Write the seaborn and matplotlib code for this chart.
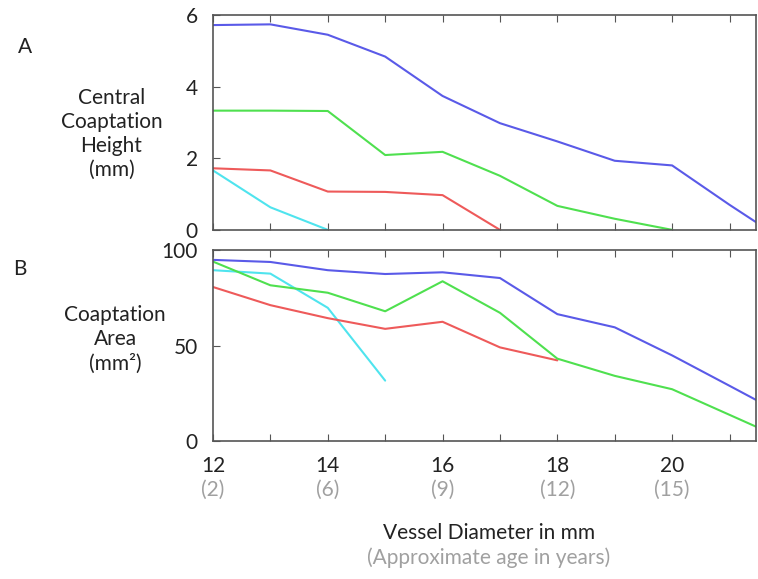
import pandas as pd
import numpy as np
import matplotlib
matplotlib.use('Agg')
import matplotlib.pyplot as plt
import matplotlib.transforms as mtransforms
import seaborn as sns

sns.set_style('white')
plt.rcParams['font.family'] = ['Lato', 'DejaVu Sans']

# vessel diameter (mm) and approximate age
diam = [12, 13, 14, 15, 16, 17, 18, 19, 20, 21, 22]
age_ticks = [12, 14, 16, 18, 20]
age_labels = ['(2)', '(6)', '(9)', '(12)', '(15)']

# panel A: central coaptation height (mm)
height_blue = [5.72, 5.74, 5.45, 4.84, 3.74, 2.98, 2.47, 1.93, 1.80, 0.70, -0.35]
height_green = [3.33, 3.33, 3.32, 2.09, 2.18, 1.51, 0.67, 0.31, 0.0]
height_red = [1.72, 1.66, 1.07, 1.06, 0.97, 0.0]
height_cyan = [1.66, 0.63, 0.0]

# panel B: coaptation area (mm2)
area_blue = [94.9, 93.8, 89.5, 87.5, 88.4, 85.4, 66.5, 59.6, 44.9, 29.0, 13.0]
area_green = [94.0, 81.6, 77.7, 68.0, 83.7, 67.2, 43.2, 34.2, 27.2, 13.8, 0.4]
area_red = [80.7, 71.2, 64.4, 58.8, 62.5, 49.1, 42.3]
area_cyan = [89.5, 87.7, 69.8, 31.7]

colors = {'blue': '#5a5ae8', 'green': '#4fe04f', 'red': '#ee5a5a', 'cyan': '#4fe4ee'}


def long_df(series):
    rows = []
    for name, vals in series.items():
        for x, v in zip(diam, vals):
            rows.append({'diam': x, 'val': v, 'series': name})
    return pd.DataFrame(rows)


dfA = long_df({'cyan': height_cyan, 'red': height_red, 'green': height_green, 'blue': height_blue})
dfB = long_df({'cyan': area_cyan, 'red': area_red, 'green': area_green, 'blue': area_blue})

fig = plt.figure(figsize=(7.58, 5.79), dpi=100)
axA = fig.add_axes([0.281, 0.603, 0.717, 0.371])
axB = fig.add_axes([0.281, 0.238, 0.717, 0.330])

for ax, df in [(axA, dfA), (axB, dfB)]:
    sns.lineplot(data=df, x='diam', y='val', hue='series', palette=colors,
                 linewidth=1.5, legend=False, ax=ax)
    ax.set_xlim(12, 21.47)
    ax.set_xticks(np.arange(12, 22))
    ax.set_xlabel('')
    ax.set_ylabel('')
    for s in ax.spines.values():
        s.set_color('#555555')
        s.set_linewidth(1.2)
    ax.tick_params(axis='both', direction='in', length=5, color='#555555',
                   top=True, bottom=True, left=True, right=False,
                   labelsize=15, labelcolor='#222222')
    ax.tick_params(axis='y', pad=11)

axA.set_ylim(0, 6)
axA.set_yticks([0, 2, 4, 6])
axA.set_xticklabels([])

axB.set_ylim(0, 100)
axB.set_yticks([0, 50, 100])
axB.set_xticklabels(['12', '', '14', '', '16', '', '18', '', '20', ''])
axB.tick_params(axis='x', pad=11)

trans = mtransforms.blended_transform_factory(axB.transData, axB.transAxes)
for x, lab in zip(age_ticks, age_labels):
    axB.text(x, -0.255, lab, transform=trans, ha='center', va='center',
             fontsize=15, color='#a0a0a0')

fig.text(0.033, 0.918, 'A', fontsize=15, color='#222222', ha='center', va='center')
fig.text(0.026, 0.535, 'B', fontsize=15, color='#222222', ha='center', va='center')
fig.text(0.147, 0.769, 'Central\nCoaptation\nHeight\n(mm)', fontsize=15, color='#222222',
         ha='center', va='center', linespacing=1.25)
fig.text(0.152, 0.414, 'Coaptation\nArea\n(mm²)', fontsize=15, color='#222222',
         ha='center', va='center', linespacing=1.25)

fig.text(0.645, 0.079, 'Vessel Diameter in mm', fontsize=15, color='#222222',
         ha='center', va='center')
fig.text(0.645, 0.036, '(Approximate age in years)', fontsize=15, color='#a0a0a0',
         ha='center', va='center')

fig.savefig('out.png', dpi=100, facecolor='white')
